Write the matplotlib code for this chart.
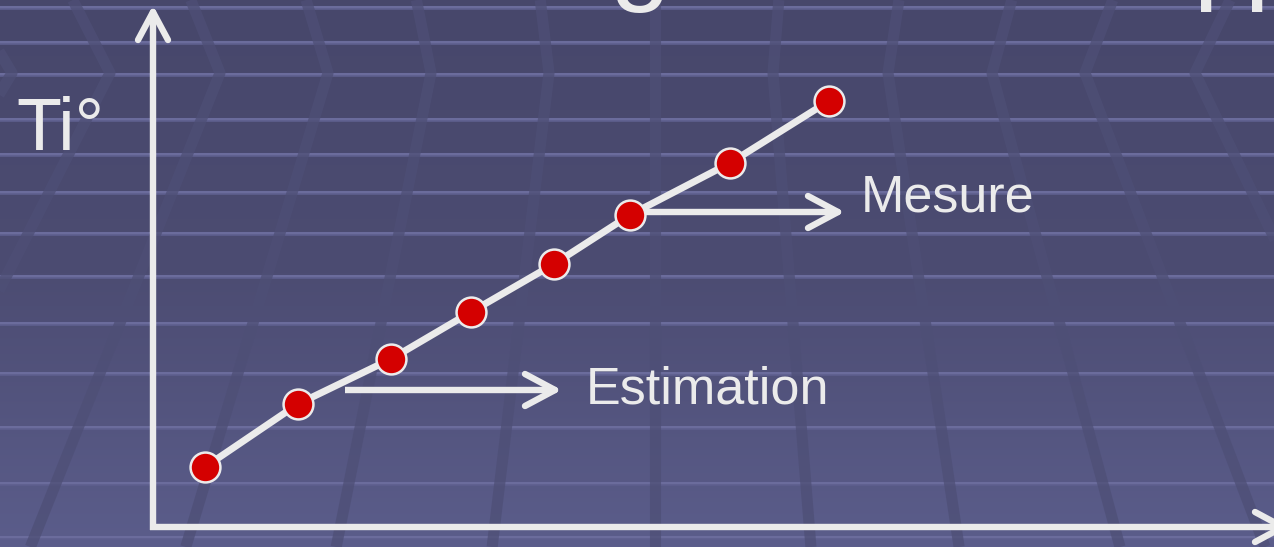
import numpy as np
import matplotlib.pyplot as plt
from matplotlib.colors import LinearSegmentedColormap

plt.rcParams["font.family"] = ["Liberation Sans", "DejaVu Sans"]

# mesures de temperature (unites arbitraires, origine au coin des axes)
temps = [5.2, 14.5, 23.8, 31.8, 40.1, 47.7, 57.7, 67.6]
ti = [6.0, 12.3, 16.8, 21.5, 26.3, 31.2, 36.4, 42.6]

# fleches d'annotation : (debut x, fin x, y, texte, x texte, y texte)
fleche_estimation = (19.2, 40.2, 13.7, "Estimation", 43.3, 12.4)
fleche_mesure = (47.7, 68.5, 31.5, "Mesure", 70.8, 31.5)

# motif du fond (en pixels) : lignes horizontales et bandes en chevron
lignes_fond = [7, 42, 74, 119, 154, 192, 233, 276, 323, 373, 427, 483, 537]
bandes_x = [12, 110, 220, 328, 431, 549, 655, 773, 888, 992, 1085, 1195]
bandes_pente = [-0.6, -0.51, -0.40, -0.30, -0.20, -0.12, 0.0, 0.08, 0.15, 0.27, 0.38, 0.48]
pli = 73

blanc = "#ebebeb"
rouge = "#d40000"

fig = plt.figure(figsize=(12.74, 5.47), dpi=100)

# fond
fond = fig.add_axes([0, 0, 1, 1])
fond.set_xlim(0, 1274)
fond.set_ylim(547, 0)
fond.axis("off")
cmap = LinearSegmentedColormap.from_list("fond", ["#47476b", "#4c4c72", "#5b5d8b"])
grad = np.linspace(0, 1, 256).reshape(-1, 1)
fond.imshow(grad, cmap=cmap, aspect="auto", extent=(0, 1274, 547, 0), zorder=0)
for y in lignes_fond:
    fond.axhline(y, color="#6b6c9c", lw=2.2, zorder=1)
    fond.axhline(y + 2, color="#5e5f8e", lw=1.2, zorder=1)
ys = np.array([0, pli, 547])
for xv, s in zip(bandes_x, bandes_pente):
    fond.plot(xv + s * np.abs(ys - pli), ys, color="#4e4f76", lw=8, alpha=0.75,
              zorder=2, solid_capstyle="butt")

# morceaux du titre qui depassent en haut
fond.text(640, -10, "g", color=blanc, fontsize=79, ha="center", va="baseline")
fond.text(1232, 12, "H", color=blanc, fontsize=79, ha="center", va="baseline")

# graphique
ax = fig.add_axes([0, 0, 1, 1], facecolor="none")
ax.set_xlim(-15.3, 112.1)
ax.set_ylim(-2.0, 52.7)
ax.axis("off")

lw = 4.6


def fleche(x0, y0, x1, y1, tete=3.0, demi=1.6):
    ax.plot([x0, x1], [y0, y1], color=blanc, lw=lw, solid_capstyle="butt", zorder=3)
    d = np.array([x1 - x0, y1 - y0], dtype=float)
    d /= np.hypot(*d)
    n = np.array([-d[1], d[0]])
    for sgn in (1, -1):
        bx, by = np.array([x1, y1]) - tete * d + sgn * demi * n
        ax.plot([bx, x1], [by, y1], color=blanc, lw=lw, solid_capstyle="round", zorder=3)


# axes
fleche(0, -0.3, 0, 51.5, tete=2.8, demi=1.5)
fleche(-0.3, 0, 113.0, 0, tete=2.8, demi=1.5)
ax.text(-13.7, 37.7, "Ti°", color=blanc, fontsize=53, va="baseline")

# courbe et points
ax.plot(temps, ti, color=blanc, lw=5, zorder=4)
ax.plot(temps, ti, "o", ms=21.5, mfc=rouge, mec=blanc, mew=1.8, zorder=5)

for x0, x1, y, txt, xt, yt in (fleche_estimation, fleche_mesure):
    fleche(x0, y, x1, y)
    ax.text(xt, yt, txt, color=blanc, fontsize=37.5, va="baseline")

fig.savefig("out.png", dpi=100)
